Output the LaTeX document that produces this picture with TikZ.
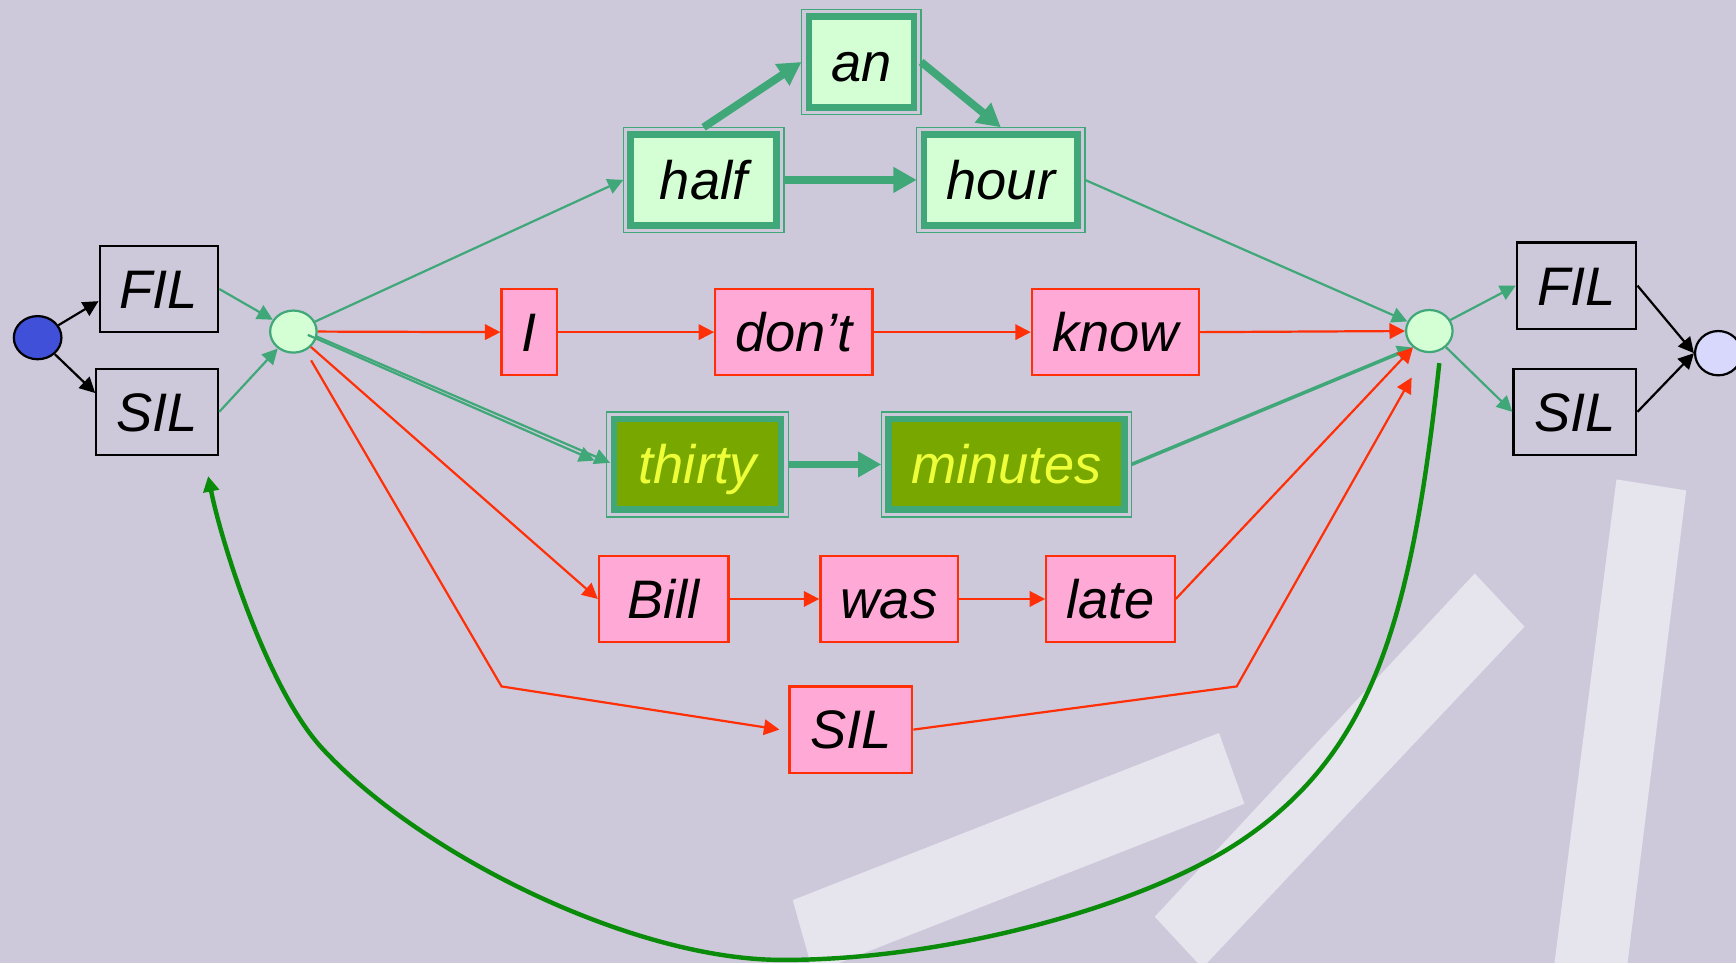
\documentclass[tikz,border=0pt]{standalone}
\usepackage{fontspec}
\setmainfont{Liberation Sans}
\usetikzlibrary{arrows.meta,calc,shapes.geometric}
\definecolor{bg}{RGB}{205,201,219}
\definecolor{gline}{RGB}{64,168,120}
\definecolor{lgreen}{RGB}{212,254,212}
\definecolor{olive}{RGB}{120,168,0}
\definecolor{yel}{RGB}{238,255,58}
\definecolor{pinkf}{RGB}{255,170,214}
\definecolor{redl}{RGB}{255,48,8}
\definecolor{startb}{RGB}{64,80,216}
\definecolor{endf}{RGB}{216,216,252}
\definecolor{loopg}{RGB}{10,140,10}
\begin{document}
\begin{tikzpicture}[x=0.5pt,y=-0.5pt,
  lbl/.style={font=\fontsize{24.5}{29}\selectfont\itshape, inner sep=0pt, text height=17.5pt, text depth=0pt},
  blkbox/.style={lbl, draw=black, line width=1pt, minimum height=39pt},
  pinkbox/.style={lbl, draw=redl, fill=pinkf, line width=1pt, minimum height=39pt},
  dbox/.style={lbl, draw=gline, fill=lgreen, line width=3pt, minimum height=40.9pt, outer sep=3.3pt},
  obox/.style={dbox, fill=olive, text=yel},
  hub/.style={ellipse, draw=gline, fill=lgreen, line width=1pt, minimum width=21pt, minimum height=19pt, inner sep=0pt},
  arrtip/.style={-{Triangle[length=7pt,width=7pt]}},
  bigtip/.style={-{Triangle[length=10.5pt,width=11pt]}},
  bk/.style={draw=black, line width=1pt, arrtip},
  gt/.style={draw=gline, line width=1pt, arrtip},
  gm/.style={draw=gline, line width=1.6pt, arrtip},
  rt/.style={draw=redl, line width=1pt, arrtip},
  gk/.style={draw=gline, line width=3.5pt, bigtip},
  bar/.style={fill=white, opacity=0.5}
]
\useasboundingbox (0,0) rectangle (1568,870);
\clip (0,0) rectangle (1568,870);
\fill[bg] (0,0) rectangle (1568,870);
% decorative bars
\fill[bar] (716,813) -- (1101,662) -- (1124,726) -- (757,870) -- (732,870) -- cycle;
\fill[bar] (1332,518) -- (1377,566) -- (1090,870) -- (1082,870) -- (1043,828) -- cycle;
\fill[bar] (1460,433) -- (1523,443) -- (1470,870) -- (1404,870) -- cycle;

% nodes
\node[ellipse, draw=black, fill=startb, line width=1pt, minimum width=21.5pt, minimum height=19.5pt, inner sep=0pt] (start) at (34,305) {};
\node[blkbox, minimum width=53.5pt] (filL) at (143.5,261) {FIL};
\node[blkbox, minimum width=55pt] (silL) at (142,372) {SIL};
\node[hub] (hubL) at (265,299.5) {};
\node[hub] (hubR) at (1291,299) {};
\node[blkbox, minimum width=54pt] (filR) at (1424,258) {FIL};
\node[blkbox, minimum width=55.5pt] (silR) at (1422.5,372) {SIL};
\node[ellipse, draw=black, fill=endf, line width=1pt, minimum width=21pt, minimum height=20pt, inner sep=0pt] (endn) at (1552,319) {};

\node[dbox, minimum width=47.4pt] (an) at (778,56) {an};
\node[dbox, minimum width=65.9pt] (half) at (635.5,162.5) {half};
\node[dbox, minimum width=69.4pt] (hour) at (904,162.5) {hour};
\node[obox, minimum width=75.4pt] (thirty) at (630,419.5) {thirty};
\node[obox, minimum width=106.4pt] (minutes) at (909,419.5) {minutes};
\foreach \n in {an,half,hour,thirty,minutes}
  \draw[gline, line width=0.6pt] (\n.north west) rectangle (\n.south east);

\node[pinkbox, minimum width=25pt] (nI) at (478,300) {I};
\node[pinkbox, minimum width=71pt] (dont) at (717,300) {don’t};
\node[pinkbox, minimum width=75.5pt] (know) at (1007.5,300) {know};
\node[pinkbox, minimum width=58.5pt] (bill) at (599.5,541) {Bill};
\node[pinkbox, minimum width=62pt] (was) at (803,541) {was};
\node[pinkbox, minimum width=58pt] (late) at (1003,541) {late};
\node[pinkbox, minimum width=55.5pt] (silM) at (768.5,659) {SIL};

\coordinate (k1) at (453,620);
\coordinate (k2) at (1117,620);
\coordinate (k3) at (1275,341);
\coordinate (lpS) at (1300,328);
\coordinate (lpE) at (188,430);

% black edges
\draw[bk] (start) -- ([yshift=-5.5pt]filL.west);
\draw[bk] (start) -- ([yshift=8.5pt]silL.west);
\draw[bk] (filR.east) -- (endn.west);
\draw[bk] (silR.east) -- (endn.west);

% green thin edges
\draw[gt] (filL.east) -- (hubL);
\draw[gt] (silL.east) -- (hubL);
\draw[gt] (hubL) -- (half.west);
\draw[gt] ([xshift=6.5pt,yshift=-1.5pt]hubL.center) -- ([xshift=-5.5pt,yshift=1.75pt]thirty.west);
\draw[gt] ([xshift=10pt,yshift=-2pt]hubL.center) -- ([xshift=1.5pt,yshift=0.75pt]thirty.west);
\draw[gt] (hour.east) -- (hubR);
\draw[gm] (minutes.east) -- (hubR.225);
\draw[gt] (hubR) -- (filR.west);
\draw[gt] (hubR) -- (silR.west);

% green thick edges
\draw[gk] (half.north) -- (an.west);
\draw[gk] (an.east) -- (hour.north);
\draw[gk] (half.east) -- (hour.west);
\draw[gk] (thirty.east) -- (minutes.west);

% red edges
\draw[rt] (hubL.east) -- (nI.west);
\draw[rt] (nI.east) -- (dont.west);
\draw[rt] (dont.east) -- (know.west);
\draw[rt] (know.east) -- (hubR.west);
\draw[rt] (hubL) -- (bill.west);
\draw[rt] (bill.east) -- (was.west);
\draw[rt] (was.east) -- (late.west);
\draw[rt] (late.east) -- (hubR.225);
\draw[rt] ([xshift=8pt,yshift=-13pt]hubL.center) -- (k1) -- ([xshift=-4pt]silM.west);
\draw[rt] (silM.east) -- (k2) -- (k3);

% green loop
\draw[draw=loopg, line width=2pt, arrtip] (lpS)
  .. controls (1275,560) and (1240,680) .. (1120,760)
  .. controls (1030,820) and (850,868) .. (704,867)
  .. controls (570,866) and (380,772) .. (292,677)
  .. controls (242,624) and (200,490) .. (lpE);
\end{tikzpicture}
\end{document}
